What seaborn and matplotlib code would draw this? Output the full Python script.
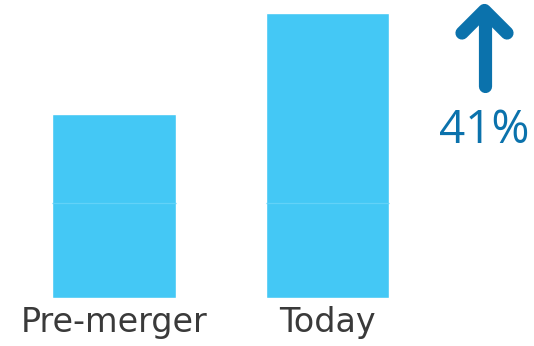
import matplotlib
matplotlib.use("Agg")
import matplotlib.pyplot as plt
import seaborn as sns
import pandas as pd

# Bar data (height units), split into a base and an upper segment
periods = ["Pre-merger", "Today"]
base_values = [95, 95]
total_values = [184, 285]
growth_label = "41%"

BAR_COLOR = "#44C8F5"
SPLIT_COLOR = "#62D2F8"
ARROW_COLOR = "#0B72AC"
TEXT_COLOR = "#3A3A3A"

sns.set_theme(style="white")
plt.rcParams["font.family"] = ["DejaVu Sans"]

df = pd.DataFrame({"period": periods, "total": total_values, "base": base_values})

fig = plt.figure(figsize=(5.34, 3.46), dpi=100)
W, H = 534, 346
ax = fig.add_axes([7.25 / W, (H - 298) / H, 427 / W, 288 / H])

sns.barplot(data=df, x="period", y="total", color=BAR_COLOR, saturation=1,
            width=0.58, ax=ax, zorder=2)

# faint seam where the base segment ends
for patch, b in zip(ax.patches, base_values):
    x0 = patch.get_x()
    ax.hlines(b, x0, x0 + patch.get_width(), color=SPLIT_COLOR, lw=0.9, zorder=3)

ax.set_xlim(-0.5, 1.5)
ax.set_ylim(0, 288)
ax.set_xlabel("")
ax.set_ylabel("")
ax.set_yticks([])
ax.tick_params(axis="x", length=0, pad=6, labelsize=24, labelcolor=TEXT_COLOR)
sns.despine(ax=ax, left=True, bottom=True)

# overlay in pixel space for the growth arrow and label
ov = fig.add_axes([0, 0, 1, 1])
ov.set_xlim(0, W)
ov.set_ylim(H, 0)
ov.axis("off")
ov.patch.set_alpha(0)
lw = 9.5
ov.plot([484.5, 484.5], [86, 12], color=ARROW_COLOR, lw=lw, solid_capstyle="round")
ov.plot([462, 484.5, 507], [33, 10.5, 33], color=ARROW_COLOR, lw=lw,
        solid_capstyle="round", solid_joinstyle="round")
ov.text(484, 131, growth_label, color=ARROW_COLOR, fontsize=33, ha="center",
        va="center", fontweight="normal", family=["Open Sans", "DejaVu Sans"])

fig.savefig("out.png", dpi=100)
